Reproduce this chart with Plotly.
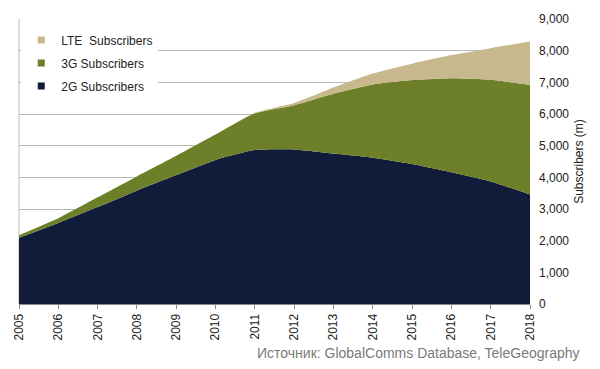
import plotly.graph_objects as go

years = list(range(2005, 2019))
subs_2g = [2090, 2560, 3060, 3580, 4070, 4550, 4860, 4880, 4750, 4620, 4420, 4160, 3870, 3460]
subs_3g = [85, 150, 310, 450, 610, 800, 1160, 1400, 1890, 2310, 2650, 2970, 3210, 3460]
subs_lte = [0, 0, 0, 0, 0, 5, 20, 70, 200, 350, 520, 730, 1000, 1370]
y_ticks = list(range(0, 9001, 1000))

fig = go.Figure()
series = [
    ("2G Subscribers", subs_2g, "#111c3b", 3),
    ("3G Subscribers", subs_3g, "#6d7f28", 2),
    ("LTE  Subscribers", subs_lte, "#c7b88e", 1),
]
for name, vals, col, rank in series:
    fig.add_trace(go.Scatter(
        x=years, y=vals, name=name, stackgroup="one", showlegend=False,
        mode="lines", line=dict(width=0, color=col, shape="spline", smoothing=0.5),
        fillcolor=col, hoverinfo="x+y+name",
    ))
# legend entries (small square swatches like the original)
for name, vals, col, rank in series:
    fig.add_trace(go.Scatter(
        x=[None], y=[None], name=name, mode="markers", legendgroup=name,
        legendrank=rank, showlegend=True,
        marker=dict(symbol="square", size=7, color=col),
    ))

fig.update_layout(
    width=600, height=369,
    margin=dict(l=18, r=70, t=13, b=65),
    paper_bgcolor="white", plot_bgcolor="white",
    font=dict(family="Liberation Sans, Arial", size=11, color="#222"),
    showlegend=True,
    legend=dict(x=0.0044, y=0.977, xanchor="left", yanchor="top",
                traceorder="grouped", bgcolor="white",
                font=dict(size=12, color="#222"), itemwidth=30,
                tracegroupgap=4),
    xaxis=dict(range=[2005, 2018], tickmode="array", tickvals=years,
               ticktext=[str(y) for y in years], tickangle=-90,
               showgrid=False, showline=True, linecolor="#888", linewidth=1,
               ticks="outside", ticklen=4, tickcolor="#888",
               tickfont=dict(size=12, color="#222"), zeroline=False),
    yaxis=dict(range=[0, 9000], side="right", tickvals=y_ticks, tickformat=",",
               showgrid=True, gridcolor="#b8b8b8", gridwidth=1,
               showline=False, zeroline=False, ticks="",
               ticklabeloverflow="allow", ticklabelstandoff=8,
               tickfont=dict(size=12, color="#222"),
               title=dict(text="Subscribers (m)", font=dict(size=12, color="#222"), standoff=6)),
    annotations=[dict(text="Источник: GlobalComms Database, TeleGeography",
                      xref="paper", yref="paper", x=1.1016, y=-0.172,
                      xanchor="right", yanchor="middle", showarrow=False,
                      font=dict(size=14, color="#7a7a7a"))],
)
fig.add_shape(type="line", xref="paper", yref="paper", x0=0, x1=0, y0=0, y1=1,
              line=dict(color="#bbbbbb", width=1), layer="below")

fig.write_html("out.html", config={"displayModeBar": False},
               post_script="document.body.style.margin='0';")
